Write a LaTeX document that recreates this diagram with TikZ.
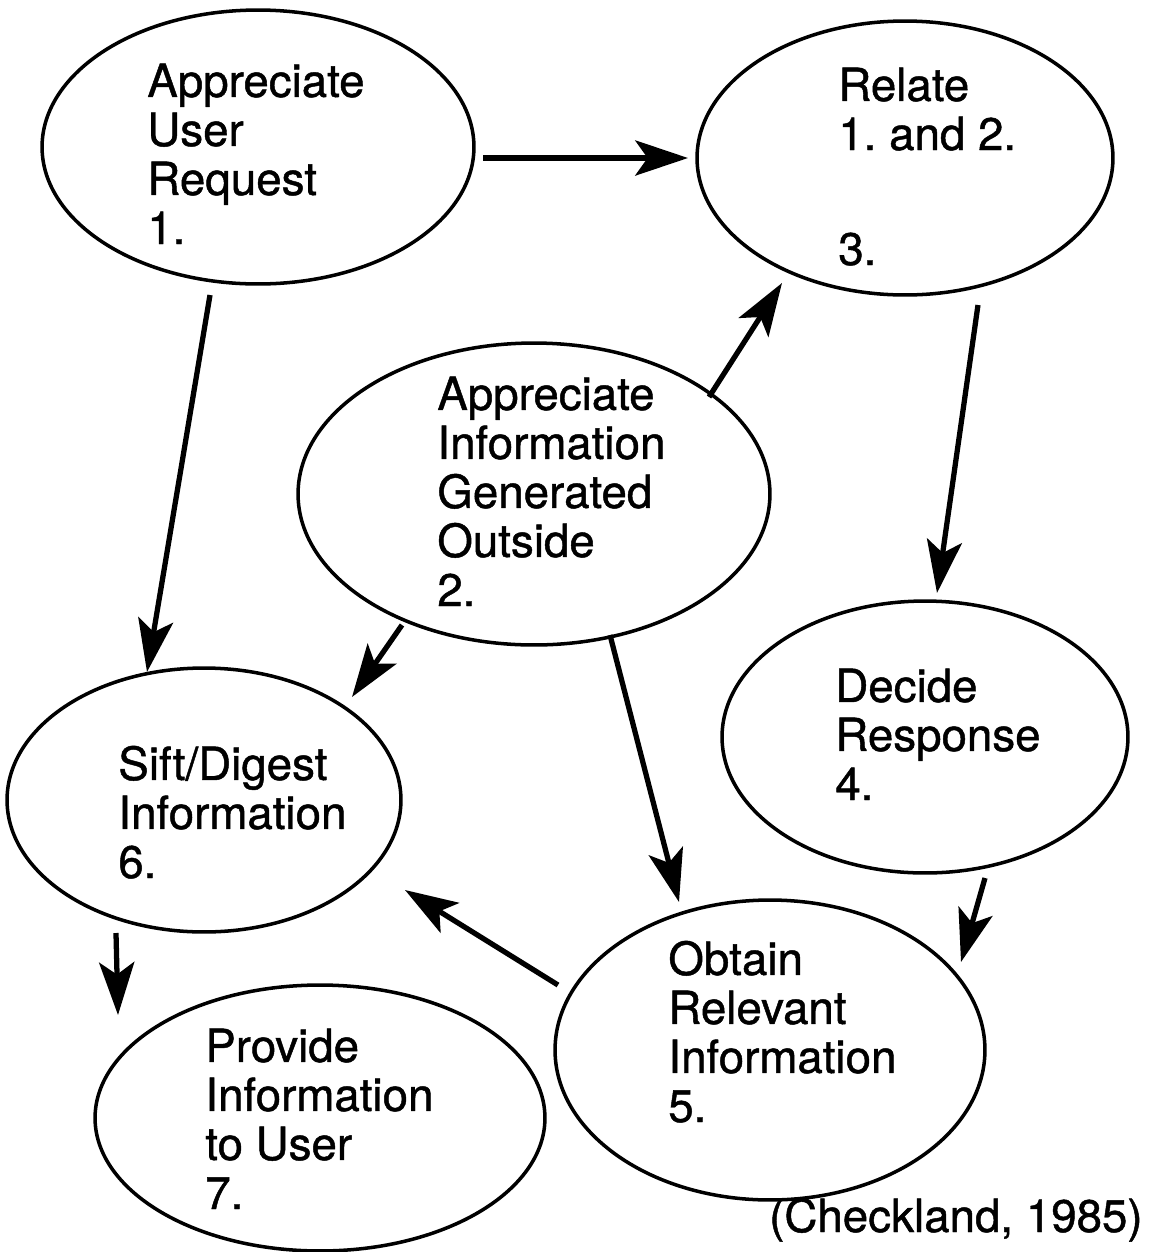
\documentclass[tikz,border=0pt]{standalone}
\usepackage{fontspec}
\setmainfont{TeX Gyre Heros}[FakeBold=1]
\usetikzlibrary{shapes.geometric,arrows.meta}

\begin{document}
\begin{tikzpicture}[x=0.02cm,y=-0.02cm,
  oval/.style={ellipse, draw, line width=2pt, inner sep=0pt},
  lbl/.style={align=left, anchor=base west, inner sep=0pt,
    font=\fontsize{26pt}{27.9pt}\selectfont},
  flow/.style={line width=3pt,
    -{Stealth[length=30pt,width=20pt,inset=7pt]}}]
\useasboundingbox (0,0) rectangle (1153,1252);

% activity ovals
\node[oval, minimum width=8.64cm, minimum height=5.48cm] (e1) at (258,147) {};
\node[oval, minimum width=8.32cm, minimum height=5.48cm] (e3) at (905,158) {};
\node[oval, minimum width=9.44cm, minimum height=6.04cm] (e2) at (534,494) {};
\node[oval, minimum width=8.12cm, minimum height=5.44cm] (e4) at (925,737) {};
\node[oval, minimum width=7.88cm, minimum height=5.28cm] (e6) at (204,800) {};
\node[oval, minimum width=8.60cm, minimum height=6.00cm] (e5) at (770,1050) {};
\node[oval, minimum width=9.00cm, minimum height=5.32cm] (e7) at (320,1118) {};

% activity labels (anchored at the baseline of their last line)
\node[lbl] (t1) at (147,244) {Appreciate\\User\\Request\\1.};
\node[lbl] (t3) at (838,150) {Relate\\1.\ and 2.};
\node[lbl] (t3n) at (838,265) {3.};
\node[lbl] (t2) at (437,606) {Appreciate\\Information\\Generated\\Outside\\2.};
\node[lbl] (t4) at (835,800) {Decide\\Response\\4.};
\node[lbl] (t6) at (118,878) {Sift/Digest\\Information\\6.};
\node[lbl] (t5) at (668,1122) {Obtain\\Relevant\\Information\\5.};
\node[lbl] (t7) at (205,1209) {Provide\\Information\\to User\\7.};
\node[lbl, anchor=base east] (src) at (1143,1232) {(Checkland, 1985)};

% connector end points
\coordinate (p13a) at (483,158);  \coordinate (p13b) at (688,158);
\coordinate (p16a) at (210,295);  \coordinate (p16b) at (147,672);
\coordinate (p23a) at (709,397);  \coordinate (p23b) at (782,283);
\coordinate (p34a) at (978,305);  \coordinate (p34b) at (937,593);
\coordinate (p26a) at (402,625);  \coordinate (p26b) at (352,697);
\coordinate (p25a) at (610,635);  \coordinate (p25b) at (679,902);
\coordinate (p45a) at (985,878);  \coordinate (p45b) at (961,962);
\coordinate (p56a) at (558,985);  \coordinate (p56b) at (405,890);
\coordinate (p67a) at (116,933);  \coordinate (p67b) at (118,1015);

% flows between activities
\draw[flow] (p13a) -- (p13b);
\draw[flow] (p16a) -- (p16b);
\draw[flow] (p23a) -- (p23b);
\draw[flow] (p34a) -- (p34b);
\draw[flow] (p26a) -- (p26b);
\draw[flow] (p25a) -- (p25b);
\draw[flow] (p45a) -- (p45b);
\draw[flow] (p56a) -- (p56b);
\draw[flow] (p67a) -- (p67b);
\end{tikzpicture}
\end{document}
